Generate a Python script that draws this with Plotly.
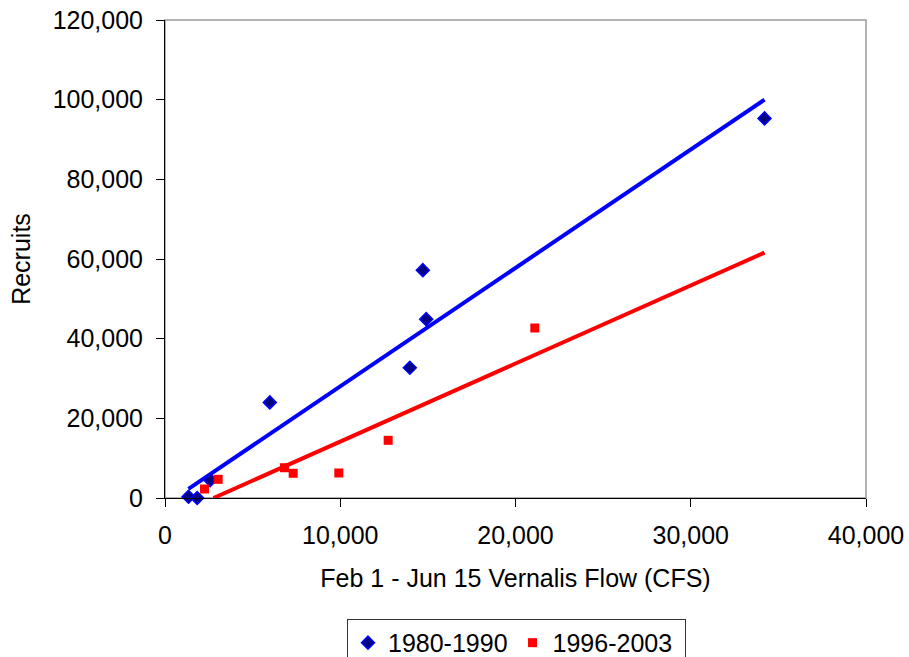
import plotly.graph_objects as go

# Data
blue_flow = [1341, 1837, 2579, 5980, 13969, 14711, 14904, 34209]
blue_recruits = [330, 0, 4500, 24000, 32700, 57200, 44900, 95300]
red_flow = [2254, 3034, 6819, 7314, 9918, 12734, 21102]
red_recruits = [2260, 4690, 7600, 6200, 6280, 14480, 42680]

# Trend lines (endpoints)
blue_trend_x = [1341, 34209]
blue_trend_y = [2300, 100000]
red_trend_x = [2767, 34209]
red_trend_y = [0, 61600]

blue_label = "1980-1990"
red_label = "1996-2003"

FONT = "Liberation Sans, Arial, sans-serif"
FS = 25

fig = go.Figure()

fig.add_trace(go.Scatter(
    x=blue_trend_x, y=blue_trend_y, mode="lines",
    line=dict(color="#0000FF", width=4), showlegend=False, hoverinfo="skip"))
fig.add_trace(go.Scatter(
    x=red_trend_x, y=red_trend_y, mode="lines",
    line=dict(color="#FF0000", width=4), showlegend=False, hoverinfo="skip"))

fig.add_trace(go.Scatter(
    x=blue_flow, y=blue_recruits, mode="markers", name=blue_label,
    marker=dict(symbol="diamond", size=10, color="#000080",
                line=dict(color="#0000FF", width=1.5)),
    cliponaxis=False))
fig.add_trace(go.Scatter(
    x=red_flow, y=red_recruits, mode="markers", name=red_label + "\u00a0",
    marker=dict(symbol="square", size=9, color="#FF0000",
                line=dict(width=0)),
    cliponaxis=False))

fig.add_shape(type="rect", xref="paper", yref="paper", x0=0, x1=1, y0=0, y1=1,
              line=dict(color="#999999", width=1.5), layer="below")

fig.update_layout(
    width=909, height=657,
    margin=dict(l=165, r=43, t=20, b=159, autoexpand=False),
    paper_bgcolor="white", plot_bgcolor="white",
    font=dict(family=FONT, size=FS, color="black"),
    showlegend=True,
    legend=dict(orientation="h", x=0.2596, xanchor="left", y=-0.253, yanchor="top",
                bordercolor="#333333", borderwidth=1, bgcolor="white",
                font=dict(size=FS, family=FONT, color="black")),
    xaxis=dict(range=[0, 40000], dtick=10000, tickformat=",d",
               showgrid=False, zeroline=False, showline=True, linecolor="black",
               linewidth=1, ticks="outside", ticklen=8, tickcolor="black",
               ticklabelstandoff=7, automargin=False,
               title=dict(text="Feb 1 - Jun 15 Vernalis Flow (CFS)", standoff=21,
                          font=dict(size=FS, family=FONT, color="black")),
               tickfont=dict(size=FS, family=FONT, color="black")),
    yaxis=dict(range=[0, 120000], dtick=20000, tickformat=",d",
               showgrid=False, zeroline=False, showline=True, linecolor="black",
               linewidth=1, ticks="outside", ticklen=8, tickcolor="black",
               ticklabelstandoff=8, automargin=False,
               title=dict(text="Recruits", standoff=14,
                          font=dict(size=FS, family=FONT, color="black")),
               tickfont=dict(size=FS, family=FONT, color="black")),
)

fig.write_html("out.html")
